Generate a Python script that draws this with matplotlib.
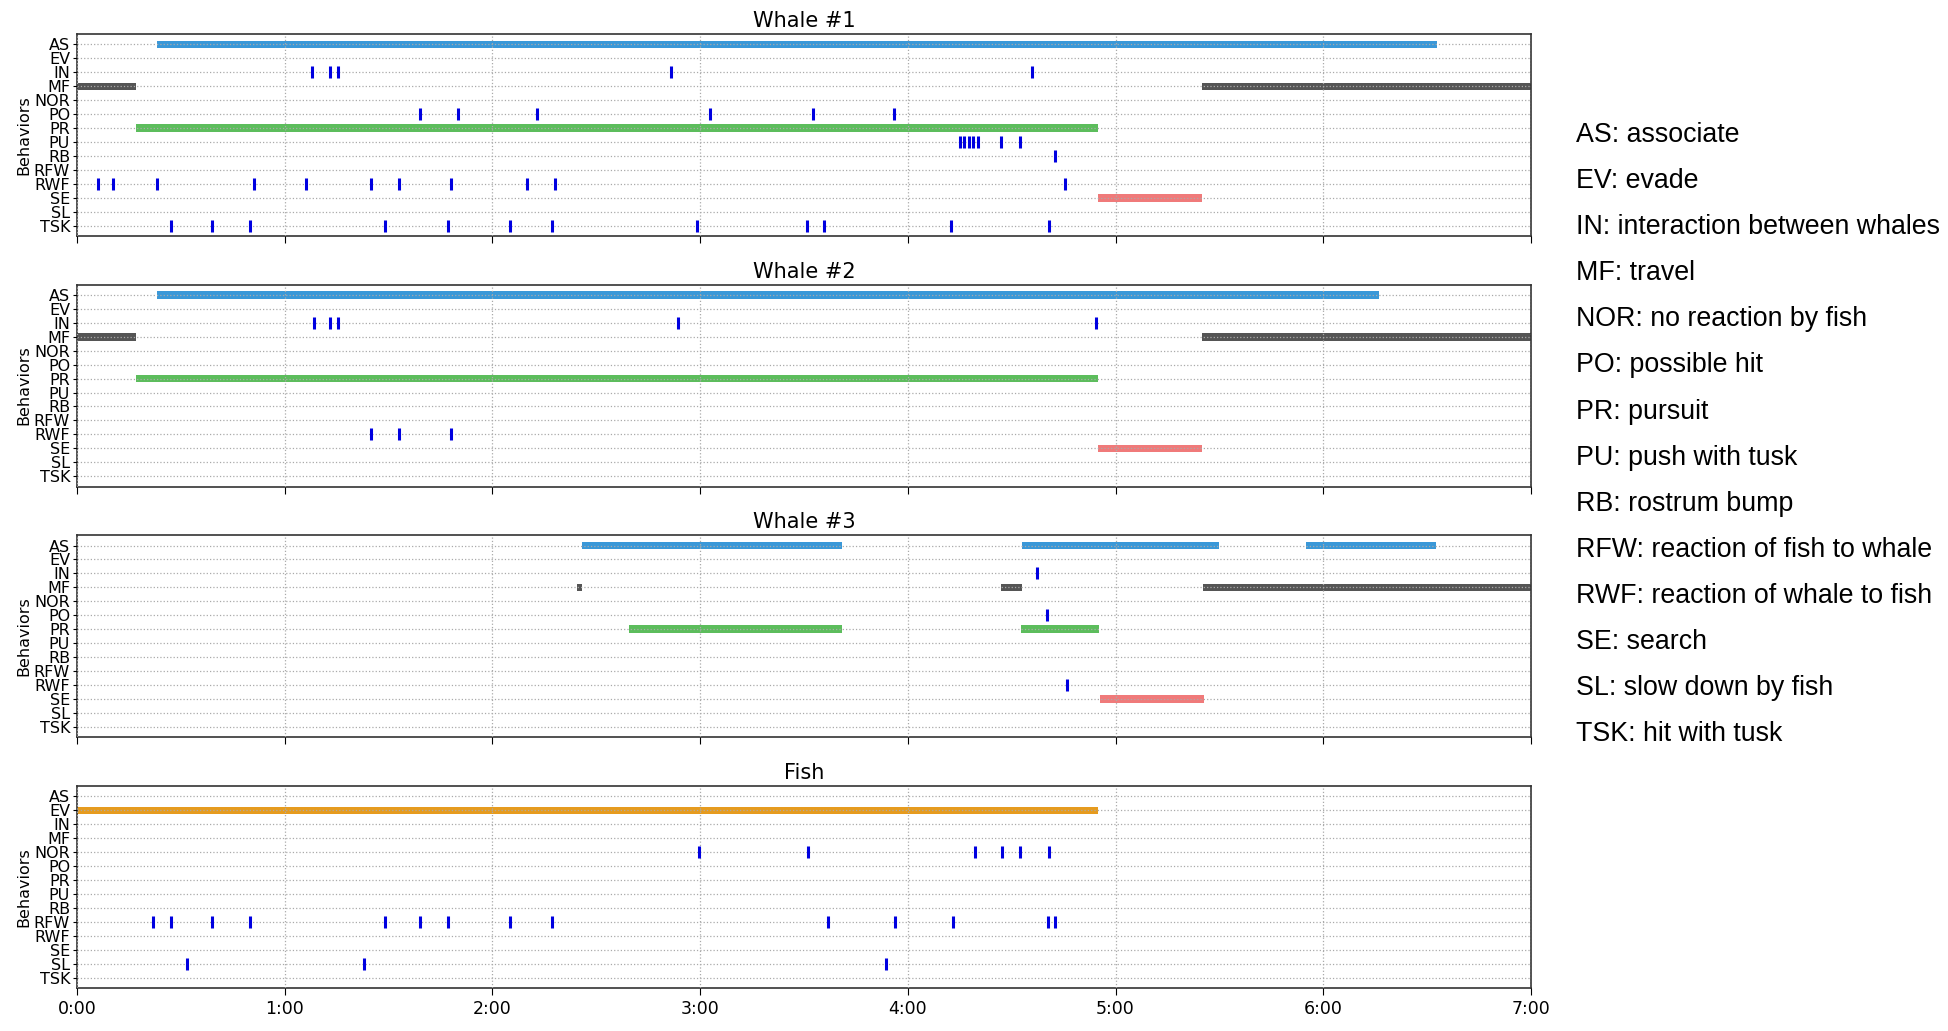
import matplotlib
matplotlib.use("Agg")
import matplotlib.pyplot as plt
from matplotlib.ticker import FuncFormatter, MultipleLocator

# behaviour codes, top to bottom
behaviors = ['AS', 'EV', 'IN', 'MF', 'NOR', 'PO', 'PR', 'PU', 'RB',
             'RFW', 'RWF', 'SE', 'SL', 'TSK']
meanings = ['associate', 'evade', 'interaction between whales', 'travel',
            'no reaction by fish', 'possible hit', 'pursuit', 'push with tusk',
            'rostrum bump', 'reaction of fish to whale',
            'reaction of whale to fish', 'search', 'slow down by fish',
            'hit with tusk']

panel_titles = ['Whale #1', 'Whale #2', 'Whale #3', 'Fish']

# state behaviours: (start s, end s)
whale1_states = {'AS': [(23, 393)], 'MF': [(0, 17), (325, 420)],
                 'PR': [(17, 295)], 'SE': [(295, 325)]}
whale2_states = {'AS': [(23, 376)], 'MF': [(0, 17), (325, 420)],
                 'PR': [(17, 295)], 'SE': [(295, 325)]}
whale3_states = {'AS': [(146, 221), (273, 330), (355, 392.6)],
                 'MF': [(144.3, 145.8), (267, 273), (325.3, 420)],
                 'PR': [(159.4, 221), (272.8, 295.2)],
                 'SE': [(295.4, 325.5)]}
fish_states = {'EV': [(0, 294.8)]}

# point events: times in s
whale1_events = {
    'IN': [68, 73, 75.3, 171.7, 276],
    'PO': [99, 110, 133, 183, 212.7, 236],
    'PU': [255, 256.3, 257.6, 258.9, 260.2, 267, 272.4],
    'RB': [282.5],
    'RWF': [6.2, 10.3, 23.1, 51.2, 66.2, 85, 93.1, 108, 130, 138.1, 285.5],
    'TSK': [27.1, 39, 49.9, 89, 107.1, 125, 137.1, 179, 211, 215.7, 252.4, 280.7],
}
whale2_events = {
    'IN': [68.4, 73.1, 75.3, 173.7, 294.5],
    'RWF': [85, 93.1, 108.1],
}
whale3_events = {
    'IN': [277.2],
    'PO': [280.1],
    'RWF': [286.1],
}
fish_events = {
    'NOR': [179.6, 211.3, 259.5, 267.3, 272.3, 280.8],
    'RFW': [22.1, 27.1, 39, 50.1, 89, 99, 107.1, 125.1, 137.1,
            216.9, 236.3, 253, 280.5, 282.6],
    'SL': [31.8, 82.9, 233.8],
}

state_colors = {'AS': '#3a98d8', 'MF': '#555555', 'PR': '#5cbd5c',
                'SE': '#f07a7a', 'EV': '#e69b1e'}

all_states = [whale1_states, whale2_states, whale3_states, fish_states]
all_events = [whale1_events, whale2_events, whale3_events, fish_events]

fig = plt.figure(figsize=(19.49, 10.31), dpi=100)

left, width = 0.0395, 0.746
bottoms = [0.771, 0.528, 0.285, 0.0417]
height = 0.196

row = {b: i for i, b in enumerate(behaviors)}


def fmt_time(x, pos):
    return '%d:%02d' % (int(x) // 60, int(x) % 60)


for k in range(4):
    ax = fig.add_axes([left, bottoms[k], width, height])
    ax.set_axisbelow(False)

    for name, spans in all_states[k].items():
        ax.broken_barh([(s, e - s) for s, e in spans], (row[name] - 0.27, 0.54),
                       facecolors=state_colors[name], zorder=1)

    for name, times in all_events[k].items():
        ax.plot(times, [row[name]] * len(times), linestyle='none', marker='|',
                markersize=8, markeredgewidth=2.2, color='#0000e0', zorder=3)

    ax.set_xlim(0, 420)
    ax.set_ylim(len(behaviors) - 1 + 0.75, -0.75)
    ax.set_yticks(range(len(behaviors)))
    ax.set_yticklabels(behaviors, fontsize=11.5)
    ax.xaxis.set_major_locator(MultipleLocator(60))
    ax.xaxis.set_major_formatter(FuncFormatter(fmt_time))
    ax.tick_params(axis='x', labelsize=12.5, length=5)
    ax.tick_params(axis='y', length=3, pad=2)
    if k < 3:
        ax.tick_params(axis='x', labelbottom=False)
    ax.grid(True, linestyle=':', color='#aaaaaa', linewidth=0.9)
    ax.set_ylabel('Behaviors', fontsize=11.5, labelpad=2)
    ax.set_title(panel_titles[k], fontsize=15, pad=5)
    for sp in ax.spines.values():
        sp.set_color('#333333')
        sp.set_linewidth(1.2)

# code list on the right
y0, dy = 0.869, (0.869 - 0.288) / (len(behaviors) - 1)
for i, (b, m) in enumerate(zip(behaviors, meanings)):
    fig.text(0.8087, y0 - i * dy, '%s: %s' % (b, m), fontsize=19.3,
             family='Liberation Sans', va='center', ha='left')

fig.savefig('out.png', dpi=100)
